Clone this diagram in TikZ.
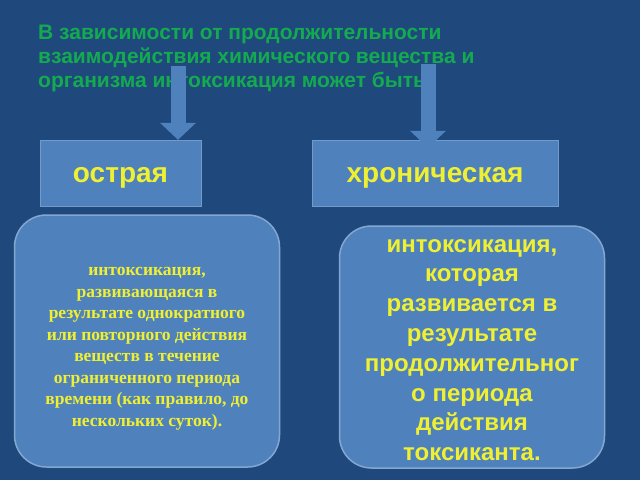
\documentclass[tikz,border=0pt]{standalone}
\usepackage{fontspec}
\setmainfont{Liberation Serif}
\setsansfont{Liberation Sans}
\usetikzlibrary{arrows.meta,positioning}

\definecolor{bgblue}{RGB}{31,73,125}
\definecolor{boxblue}{RGB}{79,129,189}
\definecolor{txtyellow}{RGB}{240,240,50}
\definecolor{ttlgreen}{RGB}{20,170,80}

\begin{document}
\begin{tikzpicture}[x=1pt,y=-1pt,
  kind/.style={rectangle,fill=boxblue,draw=boxblue!80!white,minimum width=161pt,minimum height=66pt,text height=25pt,text depth=6pt,text=txtyellow,font=\sffamily\bfseries\fontsize{28}{30}\selectfont},
  kindwide/.style={kind,minimum width=246pt},
  info/.style={rectangle,rounded corners=32pt,fill=boxblue,draw=boxblue!70!white,line width=1.5pt,minimum width=265pt},
  infotext/.style={text=txtyellow,align=center,inner sep=0pt},
  down/.style={draw=boxblue,line width=15pt,-{Triangle[width=35pt,length=17pt]}}]

\fill[bgblue] (0,0) rectangle (640,480);
\useasboundingbox (0,0) rectangle (640,480);

\node[anchor=north west,align=left,text=ttlgreen,inner sep=0pt,
  font=\sffamily\bfseries\fontsize{21}{24}\selectfont] (title) at (38,25)
  {В зависимости от продолжительности\\
   взаимодействия химического вещества и\\
   организма интоксикация может быть};

\node[kind]     (acute)   at (120.5,173) {острая};
\node[kindwide] (chronic) at (435,173) {хроническая};

% rounded boxes and their texts
\node[info,minimum height=252pt] (acutebox)   at (147,341) {};
\node[info,minimum height=242pt] (chronicbox) at (472,347) {};
\node[infotext,font=\bfseries\fontsize{17.5}{21.5}\selectfont] (acutetext)
  at ([yshift=-8pt]acutebox.center)
  {интоксикация,\\
   развивающаяся в\\
   результате однократного\\
   или повторного действия\\
   веществ в течение\\
   ограниченного периода\\
   времени (как правило, до\\
   нескольких суток).};
\node[infotext,font=\sffamily\bfseries\fontsize{24}{29.8}\selectfont] (chronictext)
  at ([yshift=-3pt]chronicbox.center)
  {интоксикация,\\
   которая\\
   развивается в\\
   результате\\
   продолжительног\\
   о периода\\
   действия\\
   токсиканта.};

\coordinate (a1) at (178,66);
\coordinate (a2) at (428,64);
\draw[down] (a1) -- (a1 |- acute.north);
\draw[down] (a2) -- ([yshift=-8pt]a2 |- chronic.north);

\end{tikzpicture}
\end{document}
